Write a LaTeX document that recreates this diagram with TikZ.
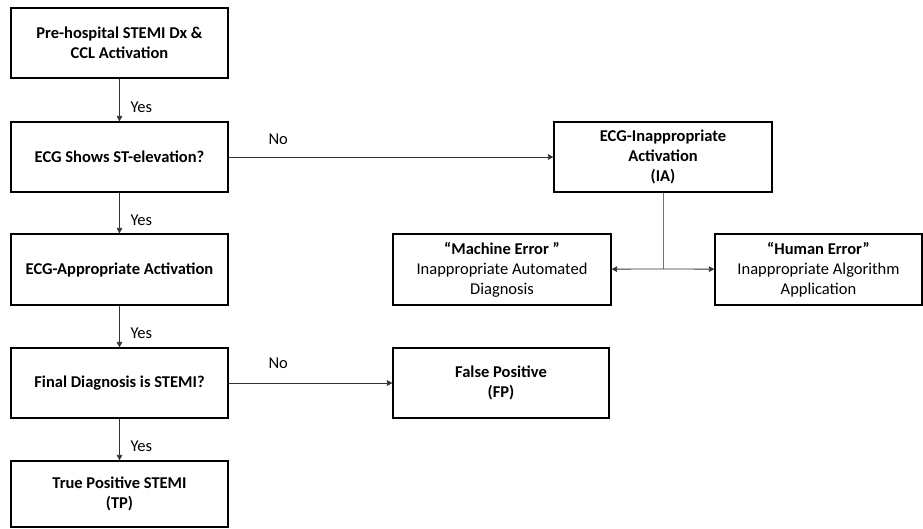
\documentclass[tikz,border=0pt]{standalone}
\usepackage{fontspec}
\setmainfont{Carlito}
\usetikzlibrary{arrows.meta}
\begin{document}
\begin{tikzpicture}[x=1pt,y=-1pt,
  box/.style={draw=black, line width=1.2pt, align=center, font=\fontsize{16.5}{20}\selectfont, inner sep=0pt},
  conn/.style={draw=black!80, line width=0.8pt},
  arr/.style={conn, -{Triangle[length=5.5pt,width=5.5pt]}},
  lbl/.style={font=\fontsize{16.5}{20}\selectfont, anchor=west}]
\useasboundingbox (0,0) rectangle (923,529);
\node[box, minimum width=217pt, minimum height=70pt] (b1) at (119.5,43) {\textbf{Pre-hospital STEMI Dx \&}\\\textbf{CCL Activation}};
\node[box, minimum width=217pt, minimum height=70pt] (b2) at (119.5,157) {\textbf{ECG Shows ST-elevation?}};
\node[box, minimum width=217pt, minimum height=71pt] (b3) at (119.5,269.5) {\textbf{ECG-Appropriate Activation}};
\node[box, minimum width=217pt, minimum height=70pt] (b4) at (119.5,383) {\textbf{Final Diagnosis is STEMI?}};
\node[box, minimum width=217pt, minimum height=66pt] (b5) at (119.5,494) {\textbf{True Positive STEMI}\\\textbf{(TP)}};
\node[box, minimum width=218pt, minimum height=70pt] (ia) at (663,157) {\textbf{ECG-Inappropriate}\\\textbf{Activation}\\\textbf{(IA)}};
\node[box, minimum width=218pt, minimum height=71pt] (me) at (502,269.5) {\textbf{“Machine Error ”}\\Inappropriate Automated\\Diagnosis};
\node[box, minimum width=207pt, minimum height=71pt] (he) at (818.5,269.5) {\textbf{“Human Error”}\\Inappropriate Algorithm\\Application};
\node[box, minimum width=216pt, minimum height=70pt] (fp) at (501,383) {\textbf{False Positive}\\\textbf{(FP)}};
\draw[arr] (b1) -- (b2);
\draw[arr] (b2) -- (b3);
\draw[arr] (b3) -- (b4);
\draw[arr] (b4) -- (b5);
\draw[arr] (b2) -- (ia);
\draw[arr] (b4) -- (fp);
\coordinate (j) at (663,269);
\draw[conn, draw=black!55] (ia) -- (j);
\draw[arr] (j) -- (me);
\draw[arr] (j) -- (he);
\node[lbl] (y1) at (127,107) {Yes};
\node[lbl] (y2) at (127,220) {Yes};
\node[lbl] (y3) at (127,333) {Yes};
\node[lbl] (y4) at (127,446) {Yes};
\node[lbl] (n1) at (265,139) {No};
\node[lbl] (n2) at (265,363) {No};
\end{tikzpicture}
\end{document}
